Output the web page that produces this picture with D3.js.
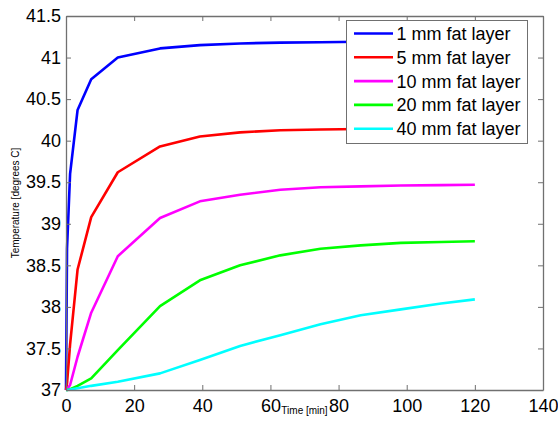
<!DOCTYPE html>
<html>
  <head>
  <title>Fat layer temperature</title>
  <style>
    body, html { margin: 0; padding: 0; background: #fff; }
    svg text { font-family: "Liberation Sans", Arial, sans-serif; }
  </style>
  </head>
  <body>

  <svg id="svg" width="558" height="429"></svg>

  <script src="https://d3js.org/d3.v7.min.js"></script>
  <script>
    // time points (min)
    const times = [0, 0.3, 1.2, 3.4, 7.4, 15.2, 27.6, 39.3, 51.1, 62.9, 74.7, 86.5, 98.3, 110.1, 120]

    const labels = ['1 mm fat layer', '5 mm fat layer', '10 mm fat layer', '20 mm fat layer', '40 mm fat layer']
    const colors = ['#0000ff', '#ff0000', '#ff00ff', '#00ff00', '#00ffff']

    const fat1 = [37, 38.7, 39.6, 40.37, 40.74, 41.0, 41.11, 41.15, 41.17, 41.18, 41.185, 41.19, 41.19, 41.19, 41.19]
    const fat5 = [37, 37.08, 37.55, 38.45, 39.08, 39.62, 39.93, 40.05, 40.1, 40.125, 40.135, 40.14, 40.145, 40.145, 40.145]
    const fat10 = [37, 37.01, 37.06, 37.4, 37.93, 38.61, 39.07, 39.27, 39.35, 39.41, 39.44, 39.45, 39.46, 39.465, 39.47]
    const fat20 = [37, 37.0, 37.01, 37.05, 37.14, 37.48, 38.01, 38.32, 38.5, 38.62, 38.7, 38.74, 38.77, 38.78, 38.79]
    const fat40 = [37, 37.0, 37.005, 37.02, 37.05, 37.1, 37.2, 37.36, 37.53, 37.66, 37.79, 37.9, 37.97, 38.04, 38.09]

    const xTicks = [0, 20, 40, 60, 80, 100, 120, 140]
    const yTicks = [37, 37.5, 38, 38.5, 39, 39.5, 40, 40.5, 41, 41.5]

    const series = [fat1, fat5, fat10, fat20, fat40]

    const margin = { top: 16, right: 15, bottom: 39, left: 66 }
    const width = 558 - margin.left - margin.right
    const height = 429 - margin.top - margin.bottom

    const svg = d3.select('#svg')
    const g = svg.append('g').attr('transform', `translate(${margin.left},${margin.top})`)

    const x = d3.scaleLinear().domain([0, 140]).range([0, width])
    const y = d3.scaleLinear().domain([37, 41.5]).range([height, 0])

    const axisColor = '#707070'
    const fmt = d => String(d)

    // lines
    const line = d3.line()
      .x((d, i) => x(times[i]))
      .y(d => y(d))

    g.selectAll('path.series')
      .data(series)
      .enter()
      .append('path')
      .attr('class', 'series')
      .attr('d', d => line(d))
      .attr('fill', 'none')
      .attr('stroke', (d, i) => colors[i])
      .attr('stroke-width', 2.6)
      .attr('stroke-linejoin', 'round')

    // axes, MATLAB style: ticks pointing in, box all round
    const axBottom = g.append('g')
      .attr('transform', `translate(0,${height})`)
      .call(d3.axisBottom(x).tickValues(xTicks).tickFormat(fmt).tickSizeInner(-5).tickSizeOuter(0).tickPadding(9))
    const axLeft = g.append('g')
      .call(d3.axisLeft(y).tickValues(yTicks).tickFormat(fmt).tickSizeInner(-5).tickSizeOuter(0).tickPadding(5))
    const axTop = g.append('g')
      .call(d3.axisTop(x).tickValues(xTicks).tickFormat('').tickSizeInner(-5).tickSizeOuter(0))
    const axRight = g.append('g')
      .attr('transform', `translate(${width},0)`)
      .call(d3.axisRight(y).tickValues(yTicks).tickFormat('').tickSizeInner(-5).tickSizeOuter(0))

    for (const a of [axBottom, axLeft, axTop, axRight]) {
      a.selectAll('path.domain').attr('stroke', axisColor).attr('stroke-width', 1.3)
      a.selectAll('.tick line').attr('stroke', axisColor)
      a.selectAll('.tick text').attr('fill', '#000').style('font-size', '18px')
    }

    // axis titles
    svg.append('text')
      .attr('x', margin.left + width / 2)
      .attr('y', 414)
      .attr('text-anchor', 'middle')
      .style('font-size', '10px')
      .text('Time [min]')

    svg.append('text')
      .attr('transform', `translate(19,${margin.top + height / 2}) rotate(-90)`)
      .attr('text-anchor', 'middle')
      .style('font-size', '10px')
      .text('Temperature [degrees C]')

    // legend
    const legend = svg.append('g').attr('transform', 'translate(346.5,20.5)')
    legend.append('rect')
      .attr('width', 181)
      .attr('height', 123)
      .attr('fill', '#fff')
      .attr('stroke', axisColor)
      .attr('stroke-width', 1)

    const items = legend.selectAll('g.item')
      .data(labels)
      .enter()
      .append('g')
      .attr('class', 'item')
      .attr('transform', (d, i) => `translate(0,${13 + i * 23.8})`)

    items.append('line')
      .attr('x1', 7.5).attr('x2', 46.5)
      .attr('stroke', (d, i) => colors[i])
      .attr('stroke-width', 2.6)

    items.append('text')
      .attr('x', 50)
      .attr('dy', '0.36em')
      .style('font-size', '18px')
      .text(d => d)
  </script>
  </body>
</html>
